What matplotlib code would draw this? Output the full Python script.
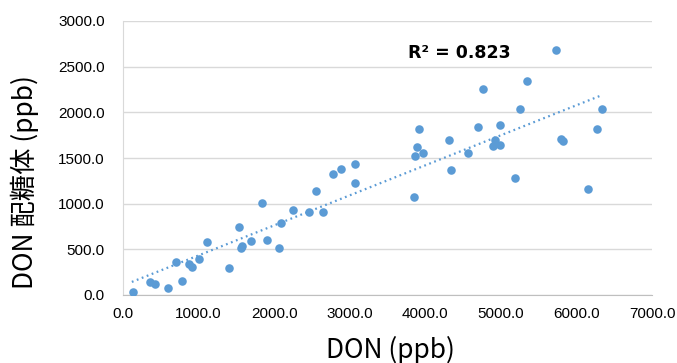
import numpy as np
import matplotlib
matplotlib.use("Agg")
import matplotlib.pyplot as plt

# DON vs DON-glucoside (ppb)
don = [137, 357, 428, 595, 785, 705, 877, 913, 1010, 1111,
       1402, 1531, 1570, 1565, 1693, 1839, 1905, 2068, 2086, 2245,
       2456, 2650, 2557, 2782, 2880, 3074, 3074, 3850, 3868, 3965,
       4339, 4564, 5182, 6156, 5733, 5345, 4763, 5248, 6333, 3916,
       4693, 4988, 4309, 3885, 4921, 4890, 4992, 5795, 5825, 6271]
glucoside = [30, 140, 115, 80, 155, 365, 340, 310, 390, 580,
             300, 750, 540, 510, 590, 1005, 605, 515, 790, 935,
             910, 910, 1135, 1320, 1375, 1430, 1230, 1070, 1520, 1560,
             1365, 1550, 1280, 1160, 2680, 2345, 2255, 2040, 2040, 1815,
             1840, 1865, 1695, 1615, 1695, 1630, 1640, 1710, 1685, 1815]

x_ticks = [0, 1000, 2000, 3000, 4000, 5000, 6000, 7000]
y_ticks = [0, 500, 1000, 1500, 2000, 2500, 3000]
r2_text = "R² = 0.823"

blue = "#5B9BD5"

fig = plt.figure(figsize=(6.77, 3.63), dpi=100)
ax = fig.add_axes([123 / 677, 1 - 295 / 363, (652 - 123) / 677, (295 - 21) / 363])

ax.scatter(don, glucoside, s=38, color=blue, zorder=3, linewidths=0)

# linear trendline
slope, intercept = np.polyfit(don, glucoside, 1)
xs = np.array([min(don) - 20, max(don)])
ax.plot(xs, slope * xs + intercept, color=blue, linewidth=1.6,
        linestyle=(0, (0.8, 1.6)), dash_capstyle="butt", zorder=2)

ax.text(3770, 2650, r2_text, fontsize=12.5, fontweight="bold",
        family="DejaVu Sans", va="center", ha="left", color="black")

ax.set_xlim(0, 7000)
ax.set_ylim(0, 3000)
ax.set_xticks(x_ticks)
ax.set_yticks(y_ticks)
ax.set_xticklabels([f"{v:.1f}" for v in x_ticks])
ax.set_yticklabels([f"{v:.1f}" for v in y_ticks])
ax.tick_params(length=0, labelsize=11, colors="black")
ax.tick_params(axis="y", pad=13)
ax.tick_params(axis="x", pad=9)
for lab in ax.get_xticklabels() + ax.get_yticklabels():
    lab.set_family("Liberation Sans")

ax.grid(axis="y", color="#D9D9D9", linewidth=1)
ax.set_axisbelow(True)
for side in ["top", "right"]:
    ax.spines[side].set_visible(False)
ax.spines["left"].set_color("#D9D9D9")
ax.spines["bottom"].set_color("#BFBFBF")

fig.text(390 / 677, 1 - 350 / 363, "DON (ppb)", fontsize=19,
         family=["Noto Sans CJK JP", "DejaVu Sans"], ha="center", va="center")
fig.text(25 / 677, 1 - 182 / 363, "DON 配糖体 (ppb)", fontsize=19, rotation=90,
         family=["Noto Sans CJK JP", "DejaVu Sans"], ha="center", va="center")

fig.savefig("out.png", dpi=100)
